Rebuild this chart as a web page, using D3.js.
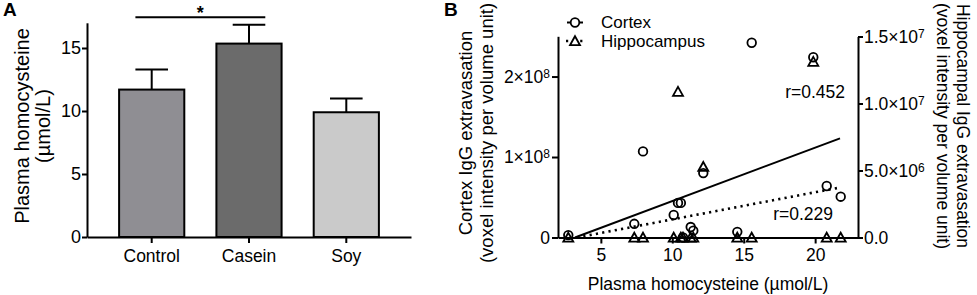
<!DOCTYPE html>
<html lang="en">
<head>
  <meta charset="UTF-8" />
  <script src="https://d3js.org/d3.v7.min.js"></script>
  <title>Homocysteine and IgG extravasation</title>
  <style>
    body { margin: 0; background: #fff; }
    svg { display: block; font-family: "Liberation Sans", Arial, Helvetica, sans-serif; }
    .axis path, .axis line { stroke: #000; stroke-width: 2px; }
    .axis text { fill: #000; }
  </style>
</head>
<body>
  <script>
    // ---- panel A data ----
    var groups = ["Control", "Casein", "Soy"];
    var groupMeans = [11.7, 15.35, 9.9];
    var groupSEM = [1.6, 1.5, 1.1];
    var barColors = ["#8f8e93", "#6b6b6b", "#cacaca"];
    var yTicksA = [0, 5, 10, 15];

    // ---- panel B data (one entry per animal) ----
    var homocysteine = [2.72, 7.34, 7.95, 10.1, 10.4, 10.6, 10.75, 11.29, 11.47, 12.17, 14.55, 15.56, 19.87, 20.81, 21.79];
    var cortexIgG = [0.03e8, 0.17e8, 1.07e8, 0.28e8, 0.43e8, 0.43e8, 0, 0.13e8, 0.085e8, 0.80e8, 0.07e8, 2.42e8, 2.24e8, 0.64e8, 0.507e8];
    var hippoIgG = [0, 0, 0, 0, 10.88e6, 0, 0, 0, 0, 5.28e6, 0, 0, 13.12e6, 0, 0];
    // regression line end points [x, y]
    var cortexFit = [[3.19, 0], [21.74, 1.232e8]];
    var hippoFit = [[3.33, 0], [21.74, 3.73e6]];
    var xTicksB = [5, 10, 15, 20];
    var cortexTicks = [0, 1e8, 2e8];
    var hippoTicks = [0, 5e6, 1e7, 1.5e7];

    var width = 977, height = 295;

    var svg = d3.select("body").append("svg")
      .attr("width", width)
      .attr("height", height);

    // ================= panel A =================
    var xA = d3.scaleBand().domain(groups).range([87, 411])
      .paddingInner(0.33).paddingOuter(0.33);
    var yA = d3.scaleLinear().domain([0, 17]).range([237, 22.8]);

    var gA = svg.append("g");

    gA.selectAll("rect.bar")
      .data(groups)
      .enter()
      .append("rect")
      .attr("class", "bar")
      .attr("x", (d) => xA(d))
      .attr("width", xA.bandwidth())
      .attr("y", (d, i) => yA(groupMeans[i]))
      .attr("height", (d, i) => yA(0) - yA(groupMeans[i]))
      .style("fill", (d, i) => barColors[i])
      .style("stroke", "#000")
      .style("stroke-width", 2);

    // error bars (upper only)
    var capW = xA.bandwidth() / 2;
    gA.selectAll("path.err")
      .data(groups)
      .enter()
      .append("path")
      .attr("class", "err")
      .attr("d", (d, i) => {
        var cx = xA(d) + xA.bandwidth() / 2;
        var top = yA(groupMeans[i] + groupSEM[i]);
        return "M" + cx + "," + yA(groupMeans[i]) + "V" + top +
          "M" + (cx - capW / 2) + "," + top + "H" + (cx + capW / 2);
      })
      .style("fill", "none")
      .style("stroke", "#000")
      .style("stroke-width", 2);

    gA.append("g")
      .attr("class", "axis")
      .attr("transform", "translate(87,0)")
      .call(d3.axisLeft(yA).tickValues(yTicksA).tickSize(5).tickSizeOuter(0).tickPadding(1))
      .selectAll("text")
      .style("font-size", "18px");

    gA.append("g")
      .attr("class", "axis")
      .attr("transform", "translate(0," + yA(0) + ")")
      .call(d3.axisBottom(xA).tickSize(6).tickSizeOuter(0).tickPadding(7))
      .selectAll("text")
      .style("font-size", "17.5px");

    // significance bracket
    var c0 = xA(groups[0]) + xA.bandwidth() / 2 - capW / 2;
    var c1 = xA(groups[1]) + xA.bandwidth() / 2 + capW / 2;
    gA.append("line")
      .attr("x1", c0).attr("x2", c1)
      .attr("y1", 17.3).attr("y2", 17.3)
      .style("stroke", "#000").style("stroke-width", 2);
    gA.append("text")
      .attr("x", (c0 + c1) / 2).attr("y", 19)
      .attr("text-anchor", "middle")
      .style("font-size", "18px").style("font-weight", "bold")
      .text("*");

    var titleA = gA.append("text")
      .attr("transform", "translate(0,126) rotate(-90)")
      .attr("text-anchor", "middle")
      .style("font-size", "20px");
    titleA.append("tspan").attr("x", 0).attr("y", 29).text("Plasma homocysteine");
    titleA.append("tspan").attr("x", 0).attr("y", 50).text("(\u00b5mol/L)");

    svg.append("text").attr("x", 3).attr("y", 16)
      .style("font-size", "19px").style("font-weight", "bold").text("A");

    // ================= panel B =================
    var xB = d3.scaleLinear().domain([2, 23]).range([558, 858]);
    var yCortex = d3.scaleLinear().domain([0, 2.5e8]).range([237.5, 36.3]);
    var yHippo = d3.scaleLinear().domain([0, 1.5e7]).range([237.5, 36.5]);

    var gB = svg.append("g");

    function sciLabels(sel, fixed) {
      sel.selectAll(".tick text").each(function (d) {
        var t = d3.select(this);
        t.text(null);
        if (d === 0) {
          t.text(fixed ? "0.0" : "0");
          return;
        }
        var e = Math.floor(Math.log10(d) + 1e-9);
        var m = d / Math.pow(10, e);
        t.append("tspan").text((fixed ? m.toFixed(1) : m) + "\u00d710");
        t.append("tspan").attr("dy", "-0.42em").style("font-size", "12px").text(e);
      });
    }

    gB.append("g")
      .attr("class", "axis")
      .attr("transform", "translate(558,0)")
      .call(d3.axisLeft(yCortex).tickValues(cortexTicks).tickSize(6).tickSizeOuter(0).tickPadding(2))
      .call((g) => g.selectAll("text").style("font-size", "17.5px"))
      .call((g) => sciLabels(g, false));

    gB.append("g")
      .attr("class", "axis")
      .attr("transform", "translate(858,0)")
      .call(d3.axisRight(yHippo).tickValues(hippoTicks).tickSize(5).tickSizeOuter(0).tickPadding(1))
      .call((g) => g.selectAll("text").style("font-size", "17.5px"))
      .call((g) => sciLabels(g, true));

    gB.append("g")
      .attr("class", "axis")
      .attr("transform", "translate(0,237.5)")
      .call(d3.axisBottom(xB).tickValues(xTicksB).tickSize(6).tickSizeOuter(0).tickPadding(5))
      .selectAll("text")
      .style("font-size", "17.5px");

    // regression lines
    var fitLineC = d3.line().x((d) => xB(d[0])).y((d) => yCortex(d[1]));
    var fitLineH = d3.line().x((d) => xB(d[0])).y((d) => yHippo(d[1]));
    gB.append("path").attr("d", fitLineC(cortexFit))
      .style("fill", "none").style("stroke", "#000").style("stroke-width", 2);
    gB.append("path").attr("d", fitLineH(hippoFit))
      .style("fill", "none").style("stroke", "#000").style("stroke-width", 2.6)
      .style("stroke-dasharray", "2.2,4.2");

    var triPath = "M0,-4.8L5,4.2L-5,4.2Z";

    // points
    gB.selectAll("circle.cortex")
      .data(homocysteine)
      .enter()
      .append("circle")
      .attr("class", "cortex")
      .attr("cx", (d) => xB(d))
      .attr("cy", (d, i) => yCortex(cortexIgG[i]))
      .attr("r", 4.3)
      .style("fill", "none").style("stroke", "#000").style("stroke-width", 1.8);

    gB.selectAll("path.hippo")
      .data(homocysteine)
      .enter()
      .append("path")
      .attr("class", "hippo")
      .attr("d", triPath)
      .attr("transform", (d, i) => "translate(" + xB(d) + "," + yHippo(hippoIgG[i]) + ")")
      .style("fill", "none").style("stroke", "#000").style("stroke-width", 1.8)
      .style("stroke-linejoin", "miter");

    // r values
    gB.append("text").attr("x", 845).attr("y", 98).attr("text-anchor", "end")
      .style("font-size", "17.5px").text("r=0.452");
    gB.append("text").attr("x", 833).attr("y", 220).attr("text-anchor", "end")
      .style("font-size", "17.5px").text("r=0.229");

    // legend
    var leg = gB.append("g");
    leg.append("line").attr("x1", 567).attr("x2", 583).attr("y1", 22.5).attr("y2", 22.5)
      .style("stroke", "#000").style("stroke-width", 2);
    leg.append("circle").attr("cx", 575).attr("cy", 22.5).attr("r", 4.3)
      .style("fill", "#fff").style("stroke", "#000").style("stroke-width", 1.8);
    leg.append("line").attr("x1", 566).attr("x2", 584).attr("y1", 41).attr("y2", 41)
      .style("stroke", "#000").style("stroke-width", 2.6).style("stroke-dasharray", "2.2,12");
    leg.append("path").attr("d", triPath).attr("transform", "translate(575,41)")
      .style("fill", "#fff").style("stroke", "#000").style("stroke-width", 1.8);
    leg.append("text").attr("x", 601).attr("y", 27.5).style("font-size", "17px").text("Cortex");
    leg.append("text").attr("x", 601).attr("y", 46.5).style("font-size", "17px").text("Hippocampus");

    // axis titles
    var titleL = gB.append("text")
      .attr("transform", "translate(0,133) rotate(-90)")
      .attr("text-anchor", "middle")
      .style("font-size", "18.5px");
    titleL.append("tspan").attr("x", 0).attr("y", 472).text("Cortex IgG extravasation");
    titleL.append("tspan").attr("x", 0).attr("y", 493).text("(voxel intensity per volume unit)");

    var titleR = gB.append("text")
      .attr("transform", "translate(0,126) rotate(90)")
      .attr("text-anchor", "middle")
      .style("font-size", "17.5px");
    titleR.append("tspan").attr("x", 0).attr("y", -957).text("Hippocampal IgG extravasation");
    titleR.append("tspan").attr("x", 0).attr("y", -937).text("(voxel intensity per volume unit)");

    gB.append("text").attr("x", xB(12.5)).attr("y", 290).attr("text-anchor", "middle")
      .style("font-size", "17.5px").text("Plasma homocysteine (\u00b5mol/L)");

    svg.append("text").attr("x", 444).attr("y", 16)
      .style("font-size", "19px").style("font-weight", "bold").text("B");
  </script>
</body>
</html>
